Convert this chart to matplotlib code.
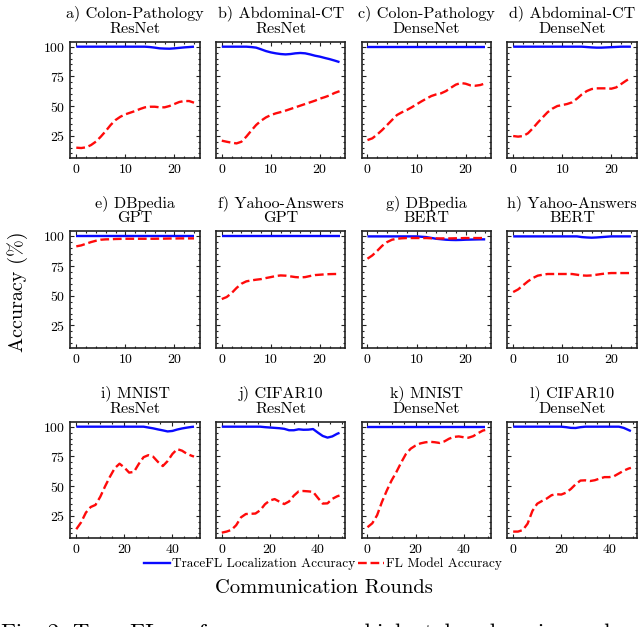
import matplotlib
matplotlib.use("Agg")
import matplotlib.pyplot as plt
from matplotlib.ticker import AutoMinorLocator, MultipleLocator
from matplotlib.lines import Line2D

plt.rcParams['font.family'] = ['cmr10', 'DejaVu Serif']
plt.rcParams['mathtext.fontset'] = 'cm'
plt.rcParams['axes.unicode_minus'] = False
plt.rcParams['axes.formatter.use_mathtext'] = True

# ---------------- data ----------------
rounds25 = list(range(25))
rounds50 = list(range(0, 50, 2)) + [49]

titles = ["a) Colon-Pathology\nResNet", "b) Abdominal-CT\nResNet",
          "c) Colon-Pathology\nDenseNet", "d) Abdominal-CT\nDenseNet",
          "e) DBpedia\nGPT", "f) Yahoo-Answers\nGPT",
          "g) DBpedia\nBERT", "h) Yahoo-Answers\nBERT",
          "i) MNIST\nResNet", "j) CIFAR10\nResNet",
          "k) MNIST\nDenseNet", "l) CIFAR10\nDenseNet"]

tracefl_a = [100]*15 + [99.7, 99.2, 98.6, 98.4, 98.3, 98.6, 99.0, 99.4, 99.7, 100]
fl_a = [14.9, 14.6, 15.2, 17.1, 20.0, 24.2, 28.9, 34.0, 38.2, 41.0, 43.0, 44.4, 45.8,
        47.5, 48.9, 49.4, 49.4, 48.9, 48.9, 50.0, 51.7, 53.4, 54.2, 54.2, 52.8]

tracefl_b = [100, 100, 100, 100, 100, 100, 99.7, 99.2, 97.8, 96.3, 95.2, 94.4, 93.8,
             93.5, 93.8, 94.4, 94.7, 94.4, 93.5, 92.4, 91.6, 90.5, 89.5, 88.3, 87.0]
fl_b = [20.8, 19.9, 19.1, 18.5, 19.9, 24.2, 29.2, 34.0, 37.6, 40.4, 42.4, 43.8, 44.9,
        46.1, 47.5, 48.9, 50.3, 51.7, 53.1, 54.5, 56.2, 57.5, 59.0, 61.0, 62.5]

tracefl_c = [100]*25
fl_c = [21.3, 22.8, 26.1, 29.8, 34.0, 38.2, 42.4, 44.7, 46.6, 48.9, 51.4, 53.9, 56.2,
        58.4, 59.8, 60.7, 62.6, 65.4, 68.0, 69.4, 68.8, 67.4, 67.1, 67.7, 69.1]

tracefl_d = [100]*15 + [99.7, 99.4, 99.2, 99.2, 99.4, 99.6, 99.8, 100, 100, 100]
fl_d = [24.7, 24.2, 24.7, 27.0, 31.2, 36.0, 40.4, 44.7, 47.8, 50.0, 50.8, 51.7, 53.1,
        56.2, 59.8, 62.6, 64.3, 64.9, 64.9, 64.9, 64.6, 65.7, 68.5, 71.3, 73.9]

tracefl_e = [100]*25
fl_e = [91.6, 92.4, 93.8, 95.2, 96.3, 97.2, 97.5, 97.6, 97.8, 97.9, 98.0, 98.0, 98.0,
        98.0, 98.0, 98.0, 98.0, 98.1, 98.1, 98.2, 98.2, 98.3, 98.3, 98.3, 98.3]

tracefl_f = [100]*25
fl_f = [47.2, 48.9, 52.2, 56.5, 60.1, 62.1, 62.9, 63.5, 64.0, 64.9, 65.7, 66.6, 67.1,
        66.9, 66.3, 65.7, 65.4, 65.7, 66.6, 67.4, 67.7, 68.0, 68.2, 68.3, 68.3]

tracefl_g = [100]*11 + [99.7, 99.4, 98.7, 98.0, 97.6, 97.2, 97.0, 96.9, 97.0, 97.2,
                        97.3, 97.4, 97.5, 97.5]
fl_g = [81.2, 84.0, 87.9, 92.1, 95.2, 97.2, 98.0, 98.4, 98.6, 98.6, 98.6, 98.6, 98.6,
        98.4, 98.3, 98.3, 98.3, 98.3, 98.4, 98.5, 98.6, 98.6, 98.6, 98.6, 98.6]

tracefl_h = [100]*14 + [99.4, 99.1, 98.9, 99.1, 99.4, 99.7, 100, 100, 100, 100, 100]
fl_h = [53.1, 55.3, 58.7, 62.1, 64.9, 66.9, 67.7, 68.3, 68.3, 68.3, 68.3, 68.3, 68.3,
        67.7, 67.1, 66.9, 67.1, 67.7, 68.3, 68.8, 69.1, 69.1, 69.1, 69.1, 69.1]

tracefl_i = [100]*15 + [99.3, 98.6, 97.7, 96.9, 96.0, 96.4, 97.6, 98.5, 99.2, 99.8, 100]
fl_i = [13.6, 19.4, 27.6, 32.3, 34.1, 41.0, 49.8, 57.8, 65.0, 68.8, 65.6, 61.3, 61.9,
        68.6, 74.3, 76.0, 74.7, 70.3, 66.8, 71.0, 77.0, 81.1, 79.8, 77.2, 75.5, 74.8]

tracefl_j = [100]*9 + [99.6, 99.3, 99.0, 98.7, 98.2, 97.0, 97.0, 97.8, 97.4, 97.5,
                       98.0, 95.0, 92.2, 90.8, 91.8, 94.0, 94.8]
fl_j = [10.7, 11.6, 13.0, 17.0, 23.6, 26.4, 26.6, 26.8, 29.6, 34.7, 37.8, 39.0, 36.8,
        34.8, 37.0, 41.9, 45.5, 45.8, 45.5, 45.1, 40.0, 35.2, 35.4, 39.2, 41.3, 42.0]

tracefl_k = [100]*26
fl_k = [15.3, 18.6, 25.4, 36.5, 46.0, 54.6, 61.7, 69.7, 77.0, 81.5, 84.1, 85.9, 86.8,
        87.3, 86.9, 86.3, 87.6, 89.9, 91.4, 91.8, 91.1, 90.7, 92.0, 94.5, 96.7, 97.2]

tracefl_l = [100]*11 + [99.6, 99.0, 98.9, 99.6, 100, 100, 100, 100, 100, 100, 100, 100,
                        99.0, 97.2, 96.3]
fl_l = [11.6, 11.6, 12.9, 18.3, 29.0, 35.1, 37.4, 39.5, 42.3, 43.1, 42.8, 44.4, 47.5,
        51.5, 54.6, 54.8, 54.2, 54.9, 56.3, 57.5, 57.5, 58.3, 60.6, 62.9, 64.7, 65.3]

tracefl = [tracefl_a, tracefl_b, tracefl_c, tracefl_d, tracefl_e, tracefl_f,
           tracefl_g, tracefl_h, tracefl_i, tracefl_j, tracefl_k, tracefl_l]
fl = [fl_a, fl_b, fl_c, fl_d, fl_e, fl_f, fl_g, fl_h, fl_i, fl_j, fl_k, fl_l]

yticks = [25, 50, 75, 100]
legend_labels = ["TraceFL Localization Accuracy", "FL Model Accuracy"]
xlabel = "Communication Rounds"
ylabel = "Accuracy (%)"
caption = "Fig. 2: TraceFL performance across high-stakes domains and model architectures."

# ---------------- figure ----------------
W, H = 640, 627
fig = plt.figure(figsize=(W/100, H/100), dpi=100)

col_left = [70.4, 215.9, 361.6, 507.3]
ax_w = 129.5
row_bottom = [158.0, 347.7, 538.0]
ax_h = 116.3

BLUE = '#0a0aff'
RED = '#ff0a0a'

for idx in range(12):
    r, c = divmod(idx, 4)
    ax = fig.add_axes([col_left[c]/W, 1 - row_bottom[r]/H, ax_w/W, ax_h/H])
    x = rounds50 if r == 2 else rounds25
    ax.plot(x, tracefl[idx], color=BLUE, lw=1.7, solid_capstyle='butt')
    ax.plot(x, fl[idx], color=RED, lw=1.7, ls='--')
    ax.set_ylim(6.2, 104.2)
    ax.set_yticks(yticks)
    ax.xaxis.set_major_locator(MultipleLocator(20 if r == 2 else 10))
    ax.xaxis.set_minor_locator(AutoMinorLocator())
    ax.yaxis.set_minor_locator(AutoMinorLocator())
    ax.tick_params(which='both', direction='in', top=True, right=True,
                   labelsize=10, width=0.8, color='#222222')
    ax.tick_params(which='major', length=3.2, pad=3.5)
    ax.tick_params(which='minor', length=1.6)
    for s in ax.spines.values():
        s.set_linewidth(1.2)
        s.set_color('#222222')
    if c != 0:
        ax.tick_params(labelleft=False)
    ax.set_title(titles[idx], fontsize=11.6, pad=6.5, linespacing=1.1)

handles = [Line2D([], [], color=BLUE, lw=1.7),
           Line2D([], [], color=RED, lw=1.7, ls='--')]
fig.legend(handles, legend_labels, loc='center', ncol=2,
           bbox_to_anchor=(322.5/W, 1 - 564/H), frameon=False, fontsize=9.6,
           handlelength=2.0, handletextpad=0.1, columnspacing=0.2,
           borderpad=0, borderaxespad=0)

fig.text(323.5/W, 1 - 588/H, xlabel, ha='center', va='center', fontsize=14.8)
fig.text(18/W, 1 - 292/H, ylabel, ha='center', va='center', fontsize=14.5,
         rotation=90)
fig.text(1/W, 1 - 638.8/H, caption, ha='left', va='baseline', fontsize=16.5)

fig.savefig("out.png", dpi=100)
